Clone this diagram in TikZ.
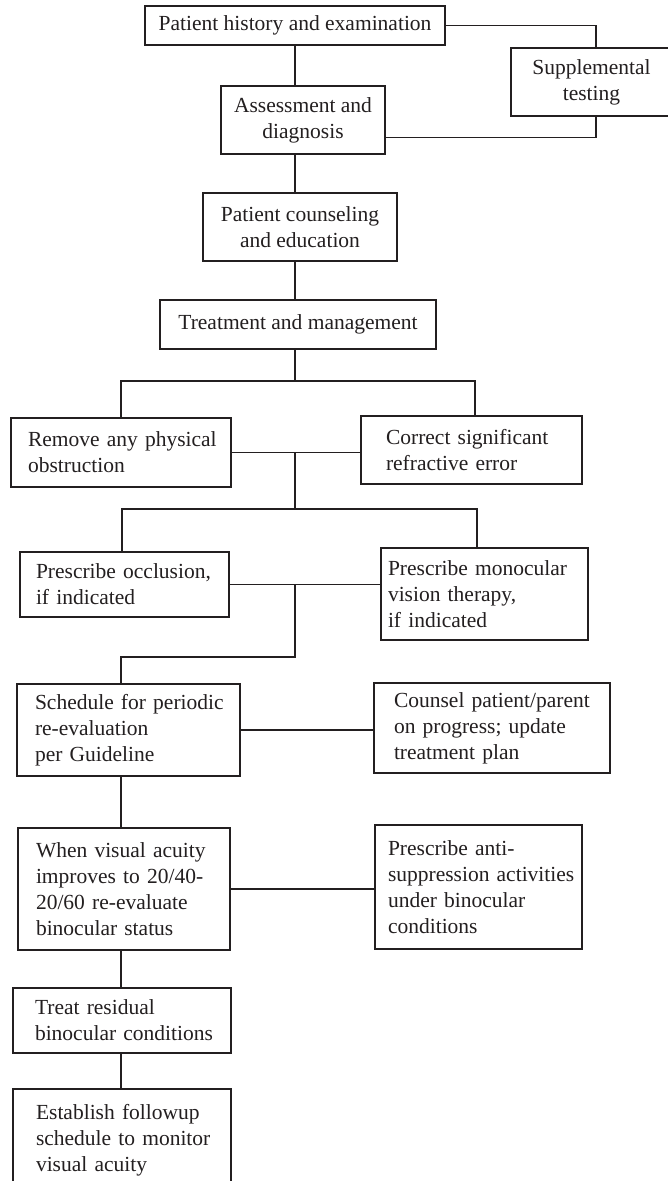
\documentclass[tikz,border=0pt]{standalone}
\usepackage{fontspec}
\setmainfont{Liberation Serif}
\usetikzlibrary{calc}
\definecolor{ink}{RGB}{35,31,32}
\begin{document}
\begin{tikzpicture}[x=1pt,y=-1pt,
  every node/.style={font=\fontsize{21.5}{26}\selectfont, text=ink},
  box/.style={draw=ink, line width=1.1pt, inner ysep=0pt},
  cbox/.style={box, align=center, inner xsep=0pt},
  lbox/.style={box, align=left},
  link/.style={draw=ink, line width=1.1pt}]
\clip (0,0) rectangle (668,1181);
\fill[white] (0,0) rectangle (668,1181);

% boxes
\node[cbox, minimum width=300pt, minimum height=39pt] (hist) at (295,25.5) {Patient history and examination};
\node[cbox, minimum width=164pt, minimum height=68pt] (assess) at (303,120) {Assessment and\\diagnosis};
\node[cbox, minimum width=161pt, minimum height=68pt] (supp) at (591.5,82) {Supplemental\\testing};
\node[cbox, minimum width=194pt, minimum height=68pt] (couns) at (300,227) {Patient counseling\\and education};
\node[cbox, minimum width=276pt, minimum height=49pt] (treat) at (298,324.5) {Treatment and management};
\node[lbox, inner xsep=17pt, text width=186pt, minimum height=69pt] (remove) at (121,452.5) {\mbox{Remove any physical}\\\mbox{obstruction}};
\node[lbox, inner xsep=25pt, text width=171pt, minimum height=68pt] (correct) at (471.5,450) {\mbox{Correct significant}\\\mbox{refractive error}};
\node[lbox, inner xsep=16pt, text width=177pt, minimum height=65pt] (occl) at (124.5,584.5) {\mbox{Prescribe occlusion,}\\\mbox{if indicated}};
\node[lbox, inner xsep=7pt, text width=193pt, minimum height=92pt] (mono) at (484.5,594) {\mbox{Prescribe monocular}\\\mbox{vision therapy,}\\\mbox{if indicated}};
\node[lbox, inner xsep=18pt, text width=187pt, minimum height=92pt] (sched) at (128.5,730) {\mbox{Schedule for periodic}\\\mbox{re-evaluation}\\\mbox{per Guideline}};
\node[lbox, inner xsep=20pt, text width=196pt, minimum height=90pt] (counsel) at (492,728) {\mbox{Counsel patient/parent}\\\mbox{on progress; update}\\\mbox{treatment plan}};
\node[lbox, inner xsep=18pt, text width=176pt, minimum height=122pt] (when) at (124,889) {\mbox{When visual acuity}\\\mbox{improves to 20/40-}\\\mbox{20/60 re-evaluate}\\\mbox{binocular status}};
\node[lbox, inner xsep=13pt, text width=181pt, minimum height=124pt] (anti) at (478.5,887) {\mbox{Prescribe anti-}\\\mbox{suppression activities}\\\mbox{under binocular}\\\mbox{conditions}};
\node[lbox, inner xsep=22pt, text width=174pt, minimum height=65pt] (tres) at (122,1020.5) {\mbox{Treat residual}\\\mbox{binocular conditions}};
\node[lbox, inner xsep=23pt, text width=172pt, minimum height=102pt] (estab) at (122,1140) {\mbox{Establish followup}\\\mbox{schedule to monitor}\\\mbox{visual acuity}};

% guide coordinates
\coordinate (spine) at (295,0);
\coordinate (spineB) at (121,0);
\coordinate (sx) at (596,0);
\coordinate (br1) at (295,381);
\coordinate (br2) at (295,509);
\coordinate (br3) at (295,657);

% connectors
\draw[link] (hist.south -| spine) -- (assess.north -| spine);
\draw[link] (hist.east) -| (sx |- supp.north);
\draw[link] (sx |- supp.south) |- ($(assess.south east)!0.25!(assess.north east)$);
\draw[link] (assess.south -| spine) -- (couns.north -| spine);
\draw[link] (couns.south -| spine) -- (treat.north -| spine);
\draw[link] (treat.south -| spine) -- (br1);
\draw[link] (remove.north) |- (br1) -| ([xshift=3.5pt]correct.north);
\draw[link] (remove.east) -- (remove.east -| correct.west);
\draw[link] (remove.east -| spine) -- (br2);
\draw[link] ([xshift=-2.5pt]occl.north) |- (br2) -| ([xshift=-7.5pt]mono.north);
\draw[link] (occl.east) -- (occl.east -| mono.west);
\draw[link] (occl.east -| spine) -- (br3) -- (br3 -| spineB) -- (sched.north -| spineB);
\draw[link] (sched.east) -- (sched.east -| counsel.west);
\draw[link] (sched.south -| spineB) -- (when.north -| spineB);
\draw[link] (when.east) -- (when.east -| anti.west);
\draw[link] (when.south -| spineB) -- (tres.north -| spineB);
\draw[link] (tres.south -| spineB) -- (estab.north -| spineB);
\end{tikzpicture}
\end{document}
